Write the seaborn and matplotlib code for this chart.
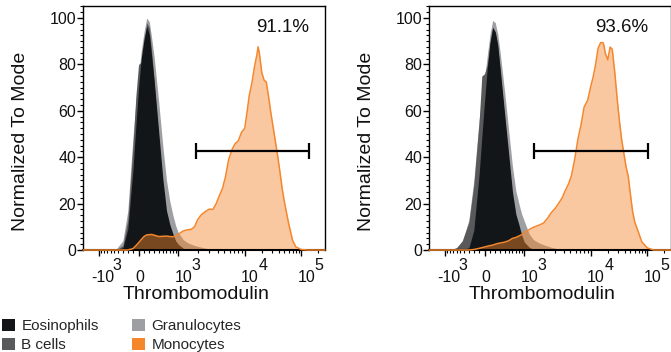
import numpy as np
import matplotlib
matplotlib.use("Agg")
import matplotlib.pyplot as plt
import matplotlib.transforms as mtransforms
from matplotlib.patches import Patch
from matplotlib.ticker import FixedLocator, MultipleLocator
import seaborn as sns

# fluorescence channel values (bin centres), shared by both panels
fluor = [-1850, -1500, -1200, -1000, -800, -600, -450, -300, -200, -100,
         -50, 0, 50, 100, 150, 200, 250, 300, 400, 500,
         600, 700, 800, 900, 1000, 1200, 1400, 1600, 1800, 2000,
         2300, 2600, 3000, 3400, 3800, 4200, 4700, 5200, 5800, 6500,
         7200, 8000, 9000, 10000, 11000, 12000, 13500, 15000, 16500, 17200,
         18000, 20000, 22000, 24000, 26500, 29000, 32000, 35000, 38000, 42000,
         46000, 50000, 55000, 60000, 70000, 80000, 100000, 130000, 180000, 262144]

# % of mode, left panel
eos_left = [0, 0, 0, 0, 0, 0, 0, 1, 9, 35,
            53, 70, 83, 91, 96.5, 93, 83, 73, 51, 31,
            17, 11, 7, 4, 2.5, 0.8, 0.2, 0, 0, 0] + [0] * 40
bcell_left = [0, 0, 0, 0, 0, 0, 0, 2, 13, 46,
              66, 80, 81, 88, 98, 96, 85, 72, 48, 28,
              14, 8, 4.5, 2.5, 1.5, 0.5, 0, 0, 0, 0] + [0] * 40
gran_left = [0, 0, 0, 0, 0, 0, 0.5, 4, 17, 49,
             63, 75, 86, 94, 100, 98.5, 91, 83, 64, 45,
             30, 21, 15, 10.5, 7.5, 4.5, 3.2, 2.5, 2, 1.6,
             1.2, 0.8, 0.5, 0.3, 0.1, 0, 0, 0, 0, 0] + [0] * 30
mono_left = [0, 0, 0, 0, 0, 0, 0, 0, 0, 0.6,
             1.8, 3.1, 4.5, 5.8, 6.5, 6.6, 6.7, 6.4, 5.8, 5.9,
             6.0, 5.8, 5.7, 6.2, 6.8, 8.2, 8.7, 8.9, 10.0, 13.0,
             15.3, 16.5, 17.6, 17.5, 20.0, 23.2, 26.5, 31.5, 39.0, 43.3,
             45.8, 47.0, 50.8, 52.5, 59.5, 66.5, 72.5, 79.5, 84.5, 87.6,
             85.5, 76.5, 73.2, 72.5, 65.8, 59.0, 52.5, 46.5, 41.0, 33.5,
             26.3, 21.0, 15.8, 11.2, 4.2, 1.3, 0.2, 0, 0, 0]

# % of mode, right panel
eos_right = [0, 0, 0, 0, 0, 0, 0, 1, 8.5, 32.5,
             48.5, 64, 78.5, 89.5, 96, 94, 88.5, 78, 58.5, 41,
             25, 15.5, 11, 6.5, 3.5, 1.2, 0.3, 0, 0, 0] + [0] * 40
bcell_right = [0, 0, 0, 0, 0, 1, 4, 12, 28, 55,
               75, 76, 80, 89, 96, 94, 87, 77, 56, 38,
               22, 13, 8, 4.5, 2.5, 1, 0.3, 0, 0, 0] + [0] * 40
gran_right = [0, 0, 0, 0, 0, 1, 3.5, 13, 30, 56,
              66, 74, 84, 93, 99, 98, 93, 85, 68, 51,
              36, 25.5, 20, 15.5, 12.5, 7, 4.5, 3.5, 2.8, 2.3,
              1.7, 1.2, 0.8, 0.5, 0.3, 0.1, 0, 0, 0, 0] + [0] * 30
mono_right = [0, 0, 0, 0, 0, 0, 0, 0, 0.2, 0.7,
              1.0, 1.3, 1.6, 1.9, 2.1, 2.5, 2.8, 3.0, 3.4, 4.0,
              5.0, 5.4, 6.0, 6.6, 7.5, 8.8, 9.8, 10.4, 11.0, 11.6,
              13.7, 16.0, 18.0, 20.3, 22.5, 25.5, 28.4, 32.0, 39.0, 48.0,
              54.0, 61.7, 64.5, 70.5, 74.5, 79.0, 87.0, 89.4, 89.4, 88.0,
              85.0, 82.0, 87.5, 86.5, 77.0, 66.5, 56.0, 48.0, 42.5, 36.0,
              31.8, 24.5, 16.5, 12.0, 7.5, 3.5, 0.9, 0, 0, 0]

# gates
gate_left = [1900, 138000]
gate_right = [1440, 104000]
gate_level = 42.6
pct_left = "91.1%"
pct_right = "93.6%"

populations = ["Eosinophils", "B cells", "Granulocytes", "Monocytes"]
colors = {
    "Eosinophils": "#131619",
    "B cells": "#58595b",
    "Granulocytes": "#9d9fa2",
    "Monocytes": "#f5862c",
}

x_ticks = [-1000, 0, 1000, 10000, 100000]
x_tick_base = ["-10", "0", "10", "10", "10"]
x_tick_exp = ["3", "", "3", "4", "5"]
x_minor = ([-k * 100 for k in range(1, 10)] + [k * 100 for k in range(1, 10)]
           + [k * 1000 for k in range(2, 10)] + [k * 10000 for k in range(2, 10)]
           + [200000])

# --- biexponential-like display scale (asinh with FlowJo decade widths) ---
C = 500.0
anchor_x = np.array([-5000, -1000, 0, 1000, 1e4, 1e5, 1e6])
anchor_w = np.array([55.9, 99, 139, 179, 246, 303, 360])
anchor_u = np.arcsinh(anchor_x / C)


def biex(x):
    return np.interp(np.arcsinh(np.asarray(x, dtype=float) / C), anchor_u, anchor_w)


def biex_inv(p):
    return C * np.sinh(np.interp(np.asarray(p, dtype=float), anchor_w, anchor_u))


sns.set_theme(style="ticks")
plt.rcParams["font.family"] = ["Liberation Sans", "DejaVu Sans"]

fig = plt.figure(figsize=(6.71, 3.52), dpi=100)
ax_l = fig.add_axes([83 / 671, 1 - 250 / 352, 242 / 671, 244 / 352])
ax_r = fig.add_axes([429 / 671, 1 - 250 / 352, 242 / 671, 244 / 352])

panels = [
    (ax_l, gran_left, bcell_left, eos_left, mono_left, gate_left, pct_left),
    (ax_r, gran_right, bcell_right, eos_right, mono_right, gate_right, pct_right),
]

x_label_shift = [4, 1, 5, 5, 5]  # px, FlowJo-style label placement

for ax, gran, bcell, eos, mono, gate, pct in panels:
    ax.fill_between(fluor, 0, gran, color=colors["Granulocytes"], lw=0, zorder=1)
    ax.fill_between(fluor, 0, bcell, color=colors["B cells"], lw=0, zorder=1.1)
    ax.fill_between(fluor, 0, eos, color=colors["Eosinophils"], lw=0, zorder=1.2)
    ax.fill_between(fluor, 0, mono, color=colors["Monocytes"], alpha=0.45, lw=0, zorder=1.3)
    sns.lineplot(x=fluor, y=mono, ax=ax, color=colors["Monocytes"], linewidth=1.1,
                 estimator=None, sort=False, zorder=3, clip_on=False)

    # gate bar
    ax.plot(gate, [gate_level, gate_level], color="black", lw=1.6, solid_capstyle="butt", zorder=4)
    ax.plot(gate, [gate_level, gate_level], ls="none", marker="|", ms=11, mew=1.6,
            color="black", zorder=4)
    ax.text(gate[1], 96, pct, ha="right", va="center", fontsize=13.5, color="#111111")

    ax.set_xscale("function", functions=(biex, biex_inv))
    ax.set_xlim(-1850, 262144)
    ax.set_ylim(0, 105.2)

    ax.set_xticks(x_ticks, labels=x_tick_base)
    ax.xaxis.set_minor_locator(FixedLocator(x_minor))
    ax.set_yticks(range(0, 101, 20))
    ax.yaxis.set_minor_locator(MultipleLocator(2.5))

    ax.tick_params(axis="both", which="major", direction="out", length=4, width=1,
                   color="black", labelsize=11.5, labelcolor="#111111")
    ax.tick_params(axis="both", which="minor", direction="out", length=2, width=0.8,
                   color="black")
    ax.tick_params(axis="x", which="major", pad=10.3)
    ax.tick_params(axis="y", which="major", pad=1)

    for lab, dx in zip(ax.get_xticklabels(), x_label_shift):
        lab.set_transform(lab.get_transform()
                          + mtransforms.ScaledTranslation(dx / 100, 0, fig.dpi_scale_trans))
    for t, e in zip(x_ticks, x_tick_exp):
        if e:
            ax.annotate(e, xy=(t, 0), xycoords=("data", "axes fraction"),
                        xytext=(13.5, -20), textcoords="offset pixels",
                        ha="left", va="baseline", fontsize=11.5, color="#111111",
                        annotation_clip=False)

    for side in ["top", "right", "left"]:
        ax.spines[side].set_linewidth(1.0)
        ax.spines[side].set_color("black")
    ax.spines["bottom"].set_linewidth(1.5)
    ax.spines["bottom"].set_color("black")

    ax.set_xlabel("Thrombomodulin", fontsize=14, color="#111111")
    ax.xaxis.set_label_coords(0.467, -0.148)
    ax.set_ylabel("Normalized To Mode", fontsize=14, color="#111111")
    ax.yaxis.set_label_coords(-0.222, 0.447)

handles = [Patch(facecolor=colors[p], edgecolor="none") for p in populations]
fig.legend(handles, populations, ncol=2, loc="upper left", bbox_to_anchor=(0.0, 0.1),
           frameon=False, fontsize=11, handlelength=0.8, handleheight=0.85,
           handletextpad=0.45, columnspacing=2.2, labelspacing=0.3,
           borderpad=0.15, borderaxespad=0)

fig.savefig("out.png", dpi=100)
